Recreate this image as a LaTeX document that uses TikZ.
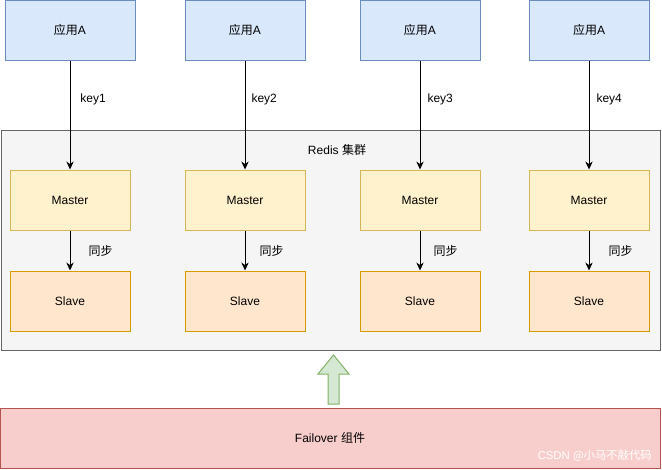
\documentclass[tikz,border=0pt]{standalone}
\usepackage{fontspec}
\setmainfont{Liberation Sans}
\newfontfamily\cjk{Noto Sans CJK SC}
\usepackage{xcolor}
\usetikzlibrary{positioning, arrows.meta}

\definecolor{appfill}{HTML}{DAE8FC}
\definecolor{appline}{HTML}{6C8EBF}
\definecolor{masterfill}{HTML}{FFF2CC}
\definecolor{masterline}{HTML}{D6B656}
\definecolor{slavefill}{HTML}{FFE6CC}
\definecolor{slaveline}{HTML}{D79B00}
\definecolor{failfill}{HTML}{F8CECC}
\definecolor{failline}{HTML}{B85450}
\definecolor{upfill}{HTML}{D5E8D4}
\definecolor{upline}{HTML}{82B366}
\definecolor{clusterfill}{HTML}{F5F5F5}
\definecolor{clusterline}{HTML}{666666}

\begin{document}
\begin{tikzpicture}[
        x=0.75pt, y=-0.75pt,
        box/.style={rectangle, draw, line width=0.75pt, minimum width=90pt, minimum height=45pt, align=center, inner sep=0pt, font=\fontsize{9}{11}\selectfont},
        app/.style={box, draw=appline, fill=appfill},
        master/.style={box, draw=masterline, fill=masterfill},
        slave/.style={box, draw=slaveline, fill=slavefill},
        arrow/.style={-{Stealth[length=6pt, width=5.5pt]}, line width=0.75pt},
        lbl/.style={font=\fontsize{9}{11}\selectfont, inner sep=0pt}
    ]
    \useasboundingbox (0,0) rectangle (662,469);

    \node[box, draw=clusterline, fill=clusterfill, minimum width=494.25pt, minimum height=165pt] (cluster) at (330.5,240) {};
    \node[lbl] (clustername) at (337,150) {Redis {\cjk 集群}};

    \node[master] (master1) at (70,200) {Master};
    \node[master] (master2) at (245,200) {Master};
    \node[master] (master3) at (420,200) {Master};
    \node[master] (master4) at (589,200) {Master};

    \node[slave, below=30pt of master1] (slave1) {Slave};
    \node[slave, below=30pt of master2] (slave2) {Slave};
    \node[slave, below=30pt of master3] (slave3) {Slave};
    \node[slave, below=30pt of master4] (slave4) {Slave};

    \node[app, minimum width=97.5pt, above=81.75pt of master1] (app1) {{\cjk 应用}A};
    \node[app, above=81.75pt of master2] (app2) {{\cjk 应用}A};
    \node[app, above=81.75pt of master3] (app3) {{\cjk 应用}A};
    \node[app, above=81.75pt of master4] (app4) {{\cjk 应用}A};

    \draw[arrow] (app1.south) -- node[lbl, pos=0.36, right=7.5pt] {key1} (master1.north);
    \draw[arrow] (app2.south) -- node[lbl, pos=0.36, right=4.5pt] {key2} (master2.north);
    \draw[arrow] (app3.south) -- node[lbl, pos=0.36, right=5.25pt] {key3} (master3.north);
    \draw[arrow] (app4.south) -- node[lbl, pos=0.36, right=5.25pt] {key4} (master4.north);

    \draw[arrow] (master1.south) -- node[lbl, pos=0.52, right=13.5pt] {\cjk 同步} (slave1.north);
    \draw[arrow] (master2.south) -- node[lbl, pos=0.52, right=10.5pt] {\cjk 同步} (slave2.north);
    \draw[arrow] (master3.south) -- node[lbl, pos=0.52, right=9.75pt] {\cjk 同步} (slave3.north);
    \draw[arrow] (master4.south) -- node[lbl, pos=0.52, right=14.25pt] {\cjk 同步} (slave4.north);

    \node[box, draw=failline, fill=failfill, minimum width=495pt, minimum height=45pt] (failover) at (330,438) {Failover {\cjk 组件}};
    \node[lbl, text=white, anchor=south east, font=\fontsize{8.5}{10}\selectfont] (mark) at (652,462) {CSDN {\cjk @小马不敲代码}};

    % hollow block arrow from Failover up to the cluster
    \draw[draw=upline, fill=upfill, line width=0.75pt] (328,404) -- (328,374) -- (318,374) -- (333.5,355) -- (349,374) -- (339,374) -- (339,404) -- cycle;
\end{tikzpicture}
\end{document}
